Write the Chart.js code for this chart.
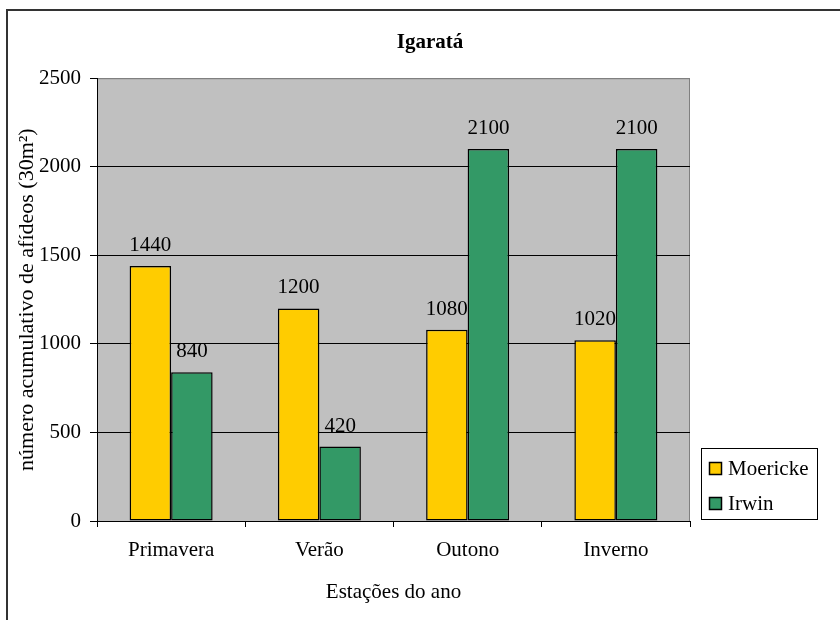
<!DOCTYPE html>
<html>
<head>
<meta charset="utf-8">
<script src="https://cdn.jsdelivr.net/npm/chart.js@4/dist/chart.umd.min.js"></script>
<style>
  html, body { margin: 0; padding: 0; background: #fff; }
  #wrap { width: 840px; height: 620px; }
</style>
</head>
<body>
<div id="wrap"><canvas id="c" width="840" height="620"></canvas></div>
<script>
// Estações do ano e contagens acumuladas por armadilha
const seasons = ['Primavera', 'Verão', 'Outono', 'Inverno'];
const moericke = [1440, 1200, 1080, 1020];
const irwin = [840, 420, 2100, 2100];
const yTicks = [0, 500, 1000, 1500, 2000, 2500];

const SERIF = "'Liberation Serif', 'Times New Roman', serif";
const FS = 21;

// Moldura externa e fundo cinza da área de plotagem
const backdrop = {
  id: 'backdrop',
  beforeDraw(chart) {
    const { ctx, chartArea: a } = chart;
    ctx.save();
    ctx.fillStyle = '#fff';
    ctx.fillRect(0, 0, chart.width, chart.height);
    ctx.strokeStyle = '#333';
    ctx.lineWidth = 2;
    ctx.strokeRect(7, 10, chart.width + 10, chart.height + 10);
    ctx.fillStyle = '#C0C0C0';
    ctx.fillRect(a.left, a.top, a.right - a.left, a.bottom - a.top);
    ctx.strokeStyle = '#808080';
    ctx.lineWidth = 1;
    ctx.strokeRect(a.left + 0.5, a.top + 0.5, a.right - a.left - 1, a.bottom - a.top);
    ctx.restore();
  }
};

// Rótulos de valor acima de cada barra
const valueLabels = {
  id: 'valueLabels',
  afterDatasetsDraw(chart) {
    const { ctx } = chart;
    ctx.save();
    ctx.font = FS + 'px ' + SERIF;
    ctx.fillStyle = '#000';
    ctx.textAlign = 'center';
    ctx.textBaseline = 'alphabetic';
    chart.data.datasets.forEach((ds, i) => {
      chart.getDatasetMeta(i).data.forEach((bar, j) => {
        ctx.fillText(String(ds.data[j]), bar.x, bar.y - 15);
      });
    });
    ctx.restore();
  }
};

// Legenda em caixa, no canto inferior direito
const boxLegend = {
  id: 'boxLegend',
  afterDraw(chart) {
    const { ctx } = chart;
    const x = 701, y = 448, w = 116, h = 71;
    ctx.save();
    ctx.fillStyle = '#fff';
    ctx.fillRect(x, y, w, h);
    ctx.strokeStyle = '#000';
    ctx.lineWidth = 1;
    ctx.strokeRect(x + 0.5, y + 0.5, w, h);
    ctx.font = FS + 'px ' + SERIF;
    ctx.textAlign = 'left';
    ctx.textBaseline = 'alphabetic';
    chart.data.datasets.forEach((ds, i) => {
      const ry = y + 14 + i * 35;
      ctx.fillStyle = ds.backgroundColor;
      ctx.fillRect(x + 8.5, ry + 0.5, 12, 12);
      ctx.strokeStyle = '#000';
      ctx.lineWidth = 1.5;
      ctx.strokeRect(x + 8.5, ry + 0.5, 12, 12);
      ctx.fillStyle = '#000';
      ctx.fillText(ds.label, x + 27, ry + 13);
    });
    ctx.restore();
  }
};

new Chart(document.getElementById('c'), {
  type: 'bar',
  data: {
    labels: seasons,
    datasets: [
      { label: 'Moericke', data: moericke, backgroundColor: '#FFCC00', borderColor: '#000', borderWidth: 1.5, borderSkipped: false, yAxisID: 'y' },
      { label: 'Irwin', data: irwin, backgroundColor: '#339966', borderColor: '#000', borderWidth: 1.5, borderSkipped: false, yAxisID: 'y' }
    ]
  },
  options: {
    responsive: false,
    animation: false,
    events: [],
    layout: { padding: { left: 20, right: 0, top: 0, bottom: 0 } },
    datasets: { bar: { categoryPercentage: 0.56, barPercentage: 1 } },
    plugins: {
      legend: { display: false },
      tooltip: { enabled: false },
      title: {
        display: true,
        text: 'Igaratá',
        color: '#000',
        font: { family: SERIF, size: FS, weight: 'bold' },
        padding: { top: 30, bottom: 23 }
      }
    },
    scales: {
      x: {
        afterFit(scale) { scale.height = 99; },
        grid: { display: true, drawOnChartArea: false, drawTicks: true, tickLength: 6, color: '#000', offset: true },
        border: { display: true, color: '#000', width: 1 },
        ticks: { color: '#000', padding: 11, font: { family: SERIF, size: FS } },
        title: {
          display: true,
          text: 'Estações do ano',
          color: '#000',
          font: { family: SERIF, size: FS },
          padding: { top: 0, bottom: 15 }
        }
      },
      y: {
        min: 0,
        max: 2500,
        afterFit(scale) { scale.width = 77; },
        afterBuildTicks(scale) { scale.ticks = yTicks.map(v => ({ value: v })); },
        grid: {
          color: (c) => (c.tick && c.tick.value === 2500 ? '#808080' : '#000'),
          lineWidth: 1,
          drawTicks: true,
          tickLength: 7,
          tickColor: '#000'
        },
        border: { display: true, color: '#000', width: 1 },
        ticks: {
          color: '#000',
          padding: 9,
          font: { family: SERIF, size: FS },
          callback: (v) => String(v)
        },
        title: {
          display: true,
          text: 'número acumulativo de afídeos (30m²)',
          color: '#000',
          font: { family: SERIF, size: 22 },
          padding: { top: -6, bottom: 0 }
        }
      },
      // espaço reservado à direita para a legenda em caixa
      side: {
        type: 'linear',
        position: 'right',
        display: true,
        afterFit(scale) { scale.width = 150; },
        grid: { display: false, drawOnChartArea: false, drawTicks: false },
        border: { display: false },
        ticks: { display: false }
      }
    }
  },
  plugins: [backdrop, valueLabels, boxLegend]
});
</script>
</body>
</html>
